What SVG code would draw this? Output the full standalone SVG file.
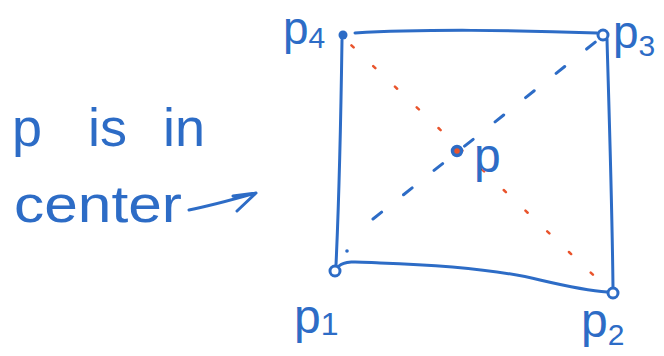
<svg xmlns="http://www.w3.org/2000/svg" width="664" height="356" viewBox="0 0 664 356">
<style>
.ink{fill:none;stroke:#2d6cc6;stroke-width:3;stroke-linecap:round;stroke-linejoin:round}
.red{fill:none;stroke:#e9542c;stroke-width:2.5;stroke-linecap:round;stroke-dasharray:3 27}
.blue-dash{fill:none;stroke:#2d6cc6;stroke-width:3;stroke-linecap:round;stroke-dasharray:11 28}
.t{font-family:"Liberation Sans","DejaVu Sans",sans-serif;fill:#2d6cc6}
.dot{fill:#fff;stroke:#2d6cc6;stroke-width:3}
</style>
<rect width="664" height="356" fill="#fff"/>
<g id="connectors">
  <path class="ink" d="M355,33 C420,29 520,30 597,33"/>
  <path class="ink" d="M342,40 C341,110 339,200 336,265"/>
  <path class="ink" d="M607,39 C609,110 612,200 613,287"/>
  <path class="ink" d="M339,266 C345,260 360,262 380,263 C440,265 500,270 540,280 C570,287 590,291 607,292"/>
  <path class="red" d="M350,44 L609,290" stroke-dashoffset="-2"/>
  <path class="blue-dash" d="M373,219 L598,40"/>
  <circle cx="347" cy="251" r="1.8" fill="#2d6cc6"/>
  <path class="ink" d="M189,210 C210,206 235,199 256,193 M233,196 L256,193 L237,211"/>
</g>
<g id="note">
  <text class="t" x="12" y="146" font-size="54">p</text>
  <text class="t" x="88" y="146" font-size="54">is</text>
  <text class="t" x="163" y="146" font-size="54">in</text>
  <text class="t" x="14" y="222" font-size="52" textLength="168" lengthAdjust="spacingAndGlyphs">center</text>
</g>
<g id="p4">
  <circle cx="343" cy="35" r="4.5" fill="#2d6cc6"/>
  <text class="t" x="283" y="44" font-size="46">p<tspan font-size="30" dy="4">4</tspan></text>
</g>
<g id="p3">
  <circle class="dot" cx="603" cy="35" r="5"/>
  <text class="t" x="613" y="48" font-size="46">p<tspan font-size="30" dy="8">3</tspan></text>
</g>
<g id="p1">
  <circle class="dot" cx="335" cy="271" r="5"/>
  <text class="t" x="294" y="333" font-size="48">p<tspan font-size="32" dy="2">1</tspan></text>
</g>
<g id="p2">
  <circle class="dot" cx="613" cy="293" r="5"/>
  <text class="t" x="581" y="337" font-size="48">p<tspan font-size="30" dy="8">2</tspan></text>
</g>
<g id="p">
  <circle cx="457" cy="151" r="4.5" fill="#e9542c" stroke="#2d6cc6" stroke-width="3.5"/>
  <text class="t" x="474" y="172" font-size="48">p</text>
</g>
</svg>
